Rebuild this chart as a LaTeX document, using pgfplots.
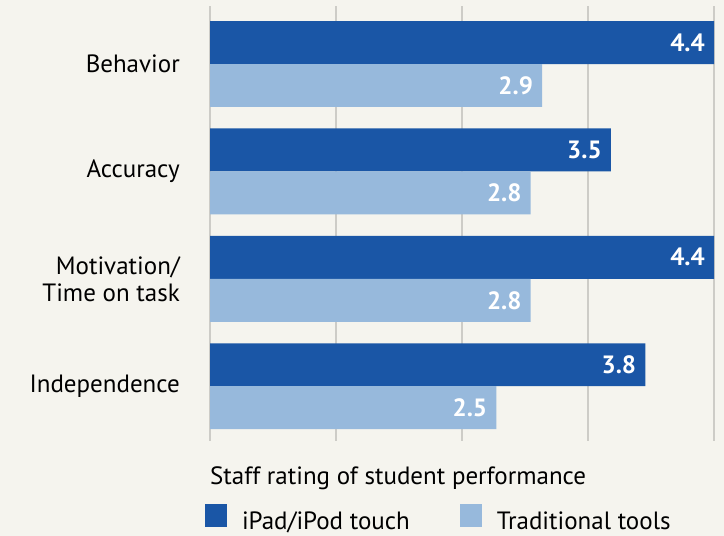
\documentclass[border=0pt]{standalone}
\usepackage{pgfplots}
\pgfplotsset{compat=1.18}
\usepackage{fontspec}
\setmainfont{PT Sans}
\definecolor{bg}{HTML}{F5F4EE}
\definecolor{darkb}{HTML}{1A56A6}
\definecolor{lightb}{HTML}{97B9DC}
\definecolor{gridc}{HTML}{CDCCC7}
\begin{document}
\begin{tikzpicture}[font=\fontsize{25bp}{29bp}\selectfont]
\fill[bg] (0,0) rectangle (724bp,536bp);
\path[use as bounding box] (0,0) rectangle (724bp,536bp);
\begin{axis}[
  at={(210bp,95bp)}, anchor=south west,
  scale only axis, width=504bp, height=435bp,
  xmin=0, xmax=4.4, ymin=-0.54, ymax=3.51,
  y dir=reverse,
  xtick={0,1.1,2.2,3.3,4.4}, xticklabels={},
  xmajorgrids, grid style={draw=gridc, line width=1.3bp},
  ytick={0,1,2,3},
  yticklabels={Behavior,Accuracy,{Motivation/\\Time on task},Independence},
  yticklabel style={align=right, anchor=east, inner sep=0pt, xshift=-30bp, text=black, font=\fontsize{25bp}{27bp}\selectfont},
  major tick length=0pt,
  axis line style={draw=none},
  xlabel={Staff rating of student performance},
  xlabel style={at={(axis description cs:0,-0.101)}, anchor=base west, inner sep=0pt},
  legend columns=2,
  legend style={at={(-0.0099,-0.176)}, anchor=west, draw=none, fill=none, inner sep=0pt, outer sep=0pt,
    nodes={inner sep=0pt}, column sep=15bp, /tikz/every even column/.append style={column sep=50bp}},
  legend image code/.code={\fill[#1,draw=none] (0bp,-6bp) rectangle (22bp,17bp);},
  clip=false,
]
\addplot[xbar, bar width=0.4, bar shift=-0.2, fill=darkb, draw=none,
  nodes near coords, point meta=explicit symbolic,
  nodes near coords style={anchor=east, inner sep=0pt, xshift=-9bp, yshift=21.5bp, text=white, font=\fontsize{25bp}{29bp}\selectfont\bfseries}]
  coordinates {(4.4,0) [4.4] (3.5,1) [3.5] (4.4,2) [4.4] (3.8,3) [3.8]};
\addlegendentry{iPad/iPod touch}
\addplot[xbar, bar width=0.4, bar shift=0.2, fill=lightb, draw=none,
  nodes near coords, point meta=explicit symbolic,
  nodes near coords style={anchor=east, inner sep=0pt, xshift=-9bp, yshift=-21.5bp, text=white, font=\fontsize{25bp}{29bp}\selectfont\bfseries}]
  coordinates {(2.9,0) [2.9] (2.8,1) [2.8] (2.8,2) [2.8] (2.5,3) [2.5]};
\addlegendentry{Traditional tools}
\end{axis}
\end{tikzpicture}
\end{document}
